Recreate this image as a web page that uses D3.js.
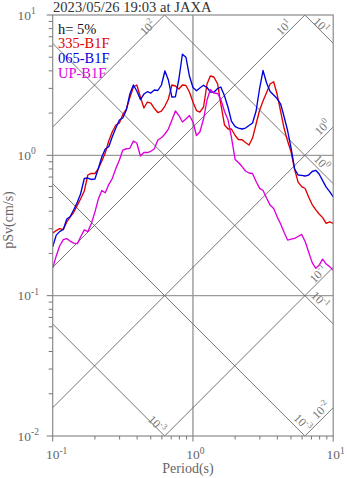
<!DOCTYPE html>
<html><head><meta charset="utf-8">
<script src="https://cdn.jsdelivr.net/npm/d3@7"></script>
<style>html,body{margin:0;padding:0;background:#fff}svg{display:block}</style>
</head><body>
<script>
const periods = [0.1,0.106,0.112,0.119,0.126,0.133,0.141,0.15,0.158,0.168,
0.178,0.188,0.2,0.211,0.224,0.237,0.251,0.266,0.282,0.299,
0.316,0.335,0.355,0.376,0.398,0.422,0.447,0.473,0.501,0.531,
0.562,0.596,0.631,0.668,0.708,0.75,0.794,0.841,0.891,0.944,
1,1.06,1.12,1.19,1.26,1.33,1.41,1.5,1.58,1.68,
1.78,1.88,2,2.11,2.24,2.37,2.51,2.66,2.82,2.99,
3.16,3.35,3.55,3.76,3.98,4.22,4.47,4.73,5.01,5.31,
5.62,5.96,6.31,6.68,7.08,7.5,7.94,8.41,8.91,9.44,10];

const sv335 = [0.279,0.291,0.300,0.296,0.335,0.363,0.391,0.442,0.488,0.557,
0.724,0.744,0.742,0.799,0.911,1.039,1.264,1.473,1.644,1.699,
1.953,2.138,2.582,3.068,3.171,2.603,2.174,2.398,2.359,2.156,
2.019,2.069,2.246,2.519,3.171,3.119,2.969,3.171,3.145,2.826,
2.398,2.086,2.035,2.21,3.223,3.675,3.615,3.223,2.321,1.644,
1.54,1.54,1.384,1.296,1.292,1.234,1.184,1.328,1.672,2.103,
2.438,2.803,3.223,3.346,2.735,2.052,1.552,1.264,1.056,0.792,
0.645,0.599,0.580,0.505,0.446,0.410,0.382,0.360,0.327,0.336,0.327];

const sv065 = [0.223,0.270,0.286,0.296,0.352,0.365,0.408,0.465,0.530,0.684,
0.689,0.673,0.678,0.799,0.973,1.109,1.152,1.357,1.565,1.785,
1.845,2.103,2.735,3.171,2.873,2.498,2.735,2.84,2.78,2.92,
2.897,3.171,3.99,3.441,2.603,2.616,3.499,5.25,5.0,3.675,
3.043,2.887,3.018,3.155,3.043,2.826,2.812,2.993,3.068,2.646,
2.191,1.756,1.604,1.565,1.54,1.565,1.631,1.699,2.069,3.018,
4.022,3.276,2.85,2.69,2.54,2.321,1.875,1.502,1.127,0.799,
0.724,0.720,0.712,0.724,0.767,0.782,0.736,0.661,0.594,0.552,0.505];

const svUP = [0.157,0.192,0.226,0.251,0.255,0.245,0.237,0.235,0.262,0.294,
0.286,0.324,0.394,0.484,0.561,0.541,0.619,0.684,0.805,0.926,
1.091,1.114,1.122,1.264,1.224,0.989,1.047,1.047,1.068,1.113,
1.285,1.335,1.419,1.54,1.785,2.069,1.921,1.727,1.815,1.921,
1.727,1.384,1.466,1.815,2.479,2.944,2.78,2.757,2.498,2.052,
1.785,1.35,0.933,0.889,0.832,0.773,0.748,0.742,0.651,0.582,
0.561,0.496,0.442,0.418,0.366,0.324,0.282,0.249,0.253,0.256,
0.264,0.273,0.243,0.205,0.172,0.157,0.165,0.182,0.168,0.161,0.152];

const seriesNames = ["335-B1F","065-B1F","UP-B1F"];
const seriesColors = ["#e00000","#0000dd","#dd00dd"];
const titleText = "2023/05/26 19:03 at JAXA";
const dampingText = "h= 5%";
const xTicks = [0.1, 1, 10];
const xTickExp = ["-1","0","1"];
const yTicks = [0.01, 0.1, 1, 10];
const yTickExp = ["-2","-1","0","1"];
const gridX = [1];
const gridY = [0.1, 1];
const accValues = [100, 10, 1, 0.1, 0.01];      // pSa lines (cm/s2)
const dispValues = [10, 1, 0.1, 0.01, 0.001];   // Sd lines (cm)
// diagonal labels: kind, line value, exponent text, period where placed, vertical lift (px)
const diagLabels = [
  {kind:"acc",  v:100,   exp:"2",  T:0.475, lift:4.5},
  {kind:"acc",  v:10,    exp:"1",  T:4.46,  lift:8.4},
  {kind:"disp", v:10,    exp:"1",  T:8.19,  lift:6},
  {kind:"acc",  v:1,     exp:"0",  T:8.39,  lift:10.2},
  {kind:"disp", v:1,     exp:"0",  T:8.28,  lift:9.6},
  {kind:"acc",  v:0.1,   exp:"-1", T:7.83,  lift:8.2},
  {kind:"disp", v:0.1,   exp:"-1", T:8.05,  lift:10.7},
  {kind:"disp", v:0.001, exp:"-3", T:0.553, lift:4.1},
  {kind:"disp", v:0.01,  exp:"-3", T:6.05,  lift:11},
  {kind:"acc",  v:0.01,  exp:"-2", T:8.19,  lift:9.7}
];

const W = 347, H = 478;
const L = 52.7, R = 333.2, T0 = 15, B = 436;
const FONT = "'Liberation Serif','Times New Roman',serif";
const svg = d3.select("body").append("svg").attr("width", W).attr("height", H)
  .style("font-family", FONT);

const x = d3.scaleLog().domain([0.1, 10]).range([L, R]);
const y = d3.scaleLog().domain([0.01, 10]).range([B, T0]);
const TWO_PI = 2 * Math.PI;
const accSv = (a, t) => a * t / TWO_PI;
const dispSv = (d, t) => TWO_PI * d / t;

svg.append("clipPath").attr("id", "plot").append("rect")
  .attr("x", L).attr("y", T0).attr("width", R - L).attr("height", B - T0);

const gPlot = svg.append("g").attr("clip-path", "url(#plot)");

// grid
gPlot.selectAll(".gx").data(gridX).join("line")
  .attr("x1", d => x(d)).attr("x2", d => x(d)).attr("y1", T0).attr("y2", B)
  .attr("stroke", "#9a9a9a").attr("stroke-width", 1.4);
gPlot.selectAll(".gy").data(gridY).join("line")
  .attr("y1", d => y(d)).attr("y2", d => y(d)).attr("x1", L).attr("x2", R)
  .attr("stroke", "#9a9a9a").attr("stroke-width", 1.4);

// diagonal lines
const tA = 0.05, tB = 20;
gPlot.selectAll(".acc").data(accValues).join("line")
  .attr("x1", x(tA)).attr("x2", x(tB))
  .attr("y1", d => y(accSv(d, tA))).attr("y2", d => y(accSv(d, tB)))
  .attr("stroke", "#666").attr("stroke-width", 0.9);
gPlot.selectAll(".disp").data(dispValues).join("line")
  .attr("x1", x(tA)).attr("x2", x(tB))
  .attr("y1", d => y(dispSv(d, tA))).attr("y2", d => y(dispSv(d, tB)))
  .attr("stroke", "#666").attr("stroke-width", 0.9);

// diagonal labels
diagLabels.forEach(lb => {
  const sv = lb.kind === "acc" ? accSv(lb.v, lb.T) : dispSv(lb.v, lb.T);
  const cx = x(lb.T), cy = y(sv) - lb.lift;
  const t = svg.append("text")
    .attr("transform", `translate(${cx},${cy}) rotate(${lb.kind === "acc" ? -45 : 45})`)
    .attr("text-anchor", "middle").attr("dominant-baseline", "central")
    .attr("fill", "#777").attr("font-size", 12);
  t.append("tspan").text("10");
  t.append("tspan").attr("font-size", 8.5).attr("dy", -4).text(lb.exp);
});

// series
const line = d3.line().x((d, i) => x(periods[i])).y(d => y(d));
[sv335, sv065, svUP].forEach((s, i) => {
  gPlot.append("path").datum(s).attr("d", line)
    .attr("fill", "none").attr("stroke", seriesColors[i]).attr("stroke-width", 1.35)
    .attr("stroke-linejoin", "round");
});

// frame
svg.append("rect").attr("x", L).attr("y", T0).attr("width", R - L).attr("height", B - T0)
  .attr("fill", "none").attr("stroke", "#8a8a8a").attr("stroke-width", 1.2);

// ticks
const minorX = [];
[0.1, 1].forEach(dec => { for (let k = 2; k <= 9; k++) minorX.push(dec * k); });
svg.selectAll(".xmin").data(minorX).join("line")
  .attr("x1", d => x(d)).attr("x2", d => x(d)).attr("y1", B).attr("y2", B + 3.5)
  .attr("stroke", "#777").attr("stroke-width", 1);
svg.selectAll(".xmaj").data(xTicks).join("line")
  .attr("x1", d => x(d)).attr("x2", d => x(d)).attr("y1", B).attr("y2", B + 5.5)
  .attr("stroke", "#777").attr("stroke-width", 1);
const minorY = [];
[0.01, 0.1, 1].forEach(dec => { for (let k = 2; k <= 9; k++) minorY.push(dec * k); });
svg.selectAll(".ymin").data(minorY).join("line")
  .attr("y1", d => y(d)).attr("y2", d => y(d)).attr("x1", L - 4).attr("x2", L)
  .attr("stroke", "#777").attr("stroke-width", 1);
svg.selectAll(".ymaj").data(yTicks).join("line")
  .attr("y1", d => y(d)).attr("y2", d => y(d)).attr("x1", L - 6).attr("x2", L)
  .attr("stroke", "#777").attr("stroke-width", 1);

// tick labels
xTicks.forEach((v, i) => {
  const t = svg.append("text").attr("x", x(v) - 6.8).attr("y", 459)
    .attr("fill", "#666").attr("font-size", 13.5);
  t.append("tspan").text("10");
  t.append("tspan").attr("font-size", 9.5).attr("dy", -5.5).text(xTickExp[i]);
});
yTicks.forEach((v, i) => {
  const t = svg.append("text").attr("x", 17.5).attr("y", y(v) + 4.6)
    .attr("fill", "#666").attr("font-size", 13.5);
  t.append("tspan").text("10");
  t.append("tspan").attr("font-size", 9.5).attr("dy", -5.5).text(yTickExp[i]);
});

// axis titles
svg.append("text").attr("x", 188).attr("y", 473).attr("text-anchor", "middle")
  .attr("fill", "#666").attr("font-size", 14).text("Period(s)");
svg.append("text").attr("transform", "translate(13,220) rotate(-90)")
  .attr("text-anchor", "middle").attr("fill", "#666").attr("font-size", 14).text("pSv(cm/s)");

// title
svg.append("text").attr("x", 53).attr("y", 11.5).attr("fill", "#333").attr("font-size", 14.6)
  .text(titleText);

// legend
svg.append("text").attr("x", 58).attr("y", 33.5).attr("fill", "#111").attr("font-size", 14.5)
  .text(dampingText);
seriesNames.forEach((n, i) => {
  svg.append("text").attr("x", 58).attr("y", 48.3 + i * 14.6).attr("fill", seriesColors[i])
    .attr("font-size", 14.5).text(n);
});
</script>
</body></html>
